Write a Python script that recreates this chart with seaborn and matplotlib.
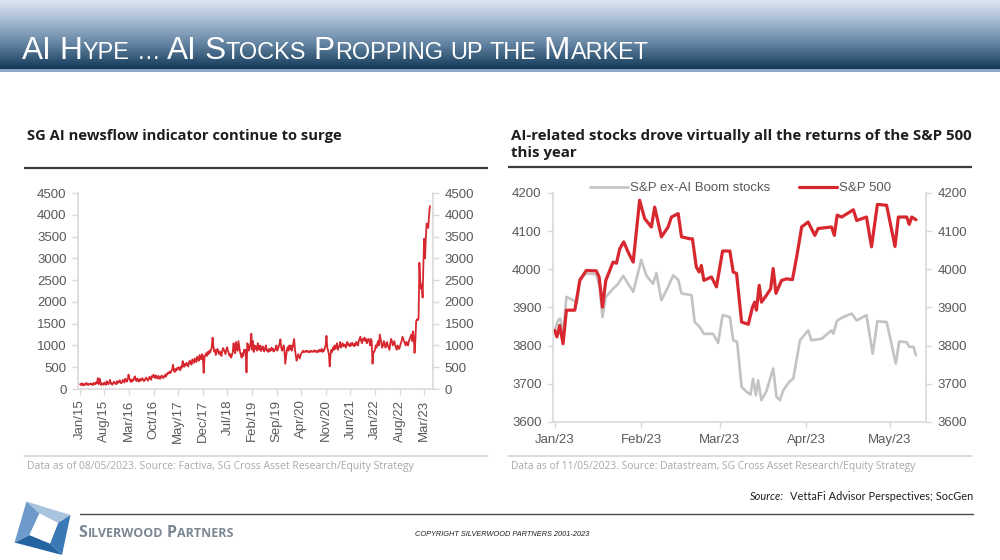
import numpy as np
import pandas as pd
import matplotlib
matplotlib.use("Agg")
import matplotlib.pyplot as plt
from matplotlib.colors import LinearSegmentedColormap
from matplotlib.patches import Polygon
import seaborn as sns

# ---------------- data ----------------
# SG AI newsflow indicator, weekly values (Jan 2015 -> Apr 2023)
news_2015 = [110, 90, 130, 100, 80, 120, 95, 110, 140, 100, 90, 120, 105, 130, 100, 115, 90, 140, 120, 110,
             160, 130, 250, 110, 240, 180, 90, 130, 110, 100, 150, 120, 95, 180, 130, 110, 160, 210, 120, 140,
             100, 130, 170, 150, 120, 110, 180, 140, 160, 200, 150, 130]
news_2016 = [160, 210, 180, 150, 240, 200, 170, 230, 330, 250, 190, 160, 220, 180, 200, 260, 290, 210, 180, 240,
             200, 170, 230, 190, 210, 250, 220, 180, 200, 240, 260, 220, 190, 230, 280, 250, 210, 300, 270, 330,
             290, 250, 310, 270, 240, 300, 260, 230, 280, 310, 270, 250]
news_2017 = [290, 320, 280, 350, 330, 380, 360, 400, 370, 420, 450, 556, 430, 390, 460, 420, 480, 450, 500, 470,
             430, 520, 490, 640, 560, 510, 580, 540, 600, 560, 520, 620, 650, 590, 560, 680, 640, 600, 700, 660,
             620, 740, 700, 650, 780, 720, 680, 800, 760, 370, 720, 780]
news_2018 = [820, 760, 850, 800, 880, 840, 900, 950, 1180, 980, 860, 900, 780, 850, 920, 880, 800, 860, 820, 760,
             880, 940, 900, 850, 800, 900, 960, 880, 820, 760, 800, 720, 780, 850, 1050, 900, 820, 1080, 950, 880,
             1100, 980, 850, 780, 720, 820, 760, 900, 850, 900, 380, 1050]
news_2019 = [1000, 880, 950, 1050, 1270, 900, 1100, 850, 1000, 920, 980, 880, 1050, 950, 900, 1000, 870, 930, 980, 900,
             860, 940, 1000, 880, 900, 850, 920, 870, 900, 950, 880, 920, 860, 900, 940, 1000, 880, 920, 980, 1050,
             1140, 950, 880, 920, 1000, 870, 580, 750, 900, 960, 880, 1000]
news_2020 = [920, 1000, 880, 950, 1050, 1150, 900, 780, 650, 720, 800, 750, 700, 780, 820, 850, 880, 840, 860, 870,
             850, 880, 860, 840, 870, 850, 880, 860, 850, 870, 890, 850, 860, 880, 840, 870, 900, 860, 880, 920,
             850, 900, 880, 950, 1000, 1220, 950, 880, 800, 520, 780, 900]
news_2021 = [850, 950, 900, 1000, 920, 980, 1050, 900, 950, 1000, 1080, 950, 1000, 1050, 980, 1020, 1000, 950, 1050, 1080,
             1000, 1020, 980, 1050, 1000, 1060, 1020, 980, 1040, 1000, 1080, 1050, 1000, 1100, 1150, 1200, 1100, 1050, 1150, 1120,
             1180, 1100, 1150, 1050, 1120, 1150, 1100, 1000, 1150, 1100, 580, 850]
news_2022 = [850, 900, 1000, 950, 1050, 1100, 1000, 1250, 1150, 1050, 950, 1000, 1100, 1050, 950, 1000, 1080, 1000, 950, 900,
             1050, 1150, 1100, 1000, 1050, 1100, 1000, 950, 900, 1000, 950, 920, 980, 1050, 1100, 1200, 1150, 1100, 1050, 1000,
             1080, 1050, 1000, 1100, 1150, 1200, 1250, 1100, 1320, 1200, 830, 1100]
news_2023 = [1550, 1600, 1580, 1620, 2900, 2500, 2300, 2400, 2100, 2900, 3450, 3000, 3500, 3800, 3750, 3700, 4000, 4200]
news_start = "2015-01-02"
left_tick_labels = ["Jan/15", "Aug/15", "Mar/16", "Oct/16", "May/17", "Dec/17", "Jul/18", "Feb/19",
                    "Sep/19", "Apr/20", "Nov/20", "Jun/21", "Jan/22", "Aug/22", "Mar/23"]
left_yticks = [0, 500, 1000, 1500, 2000, 2500, 3000, 3500, 4000, 4500]

# S&P 500 vs S&P ex-AI boom stocks (days after 1 Jan 2023)
sp500_days = [0, 0.8, 1.8, 3.0, 4.2, 7.2, 9.0, 11.3, 14.9, 15.9, 17.1, 18.3, 20.9, 22.1, 23.3, 24.7, 26.3, 28.1,
              30.4, 32.2, 34.6, 35.8, 38.2, 40.6, 41.8, 44.2, 45.4, 48.4, 49.3, 50.7, 51.7, 52.5, 53.4, 56.1, 57.9,
              60.1, 62.7, 63.9, 65.1, 66.9, 69.3, 70.8, 71.6, 72.2, 73.2, 74.0, 75.8, 77.3, 78.2, 79.2, 81.2, 83.0,
              85.1, 86.6, 88.4, 90.7, 93.1, 94.3, 99.1, 100.1, 101.1, 102.7, 106.9, 108.1, 111.6, 113.4, 115.5,
              118.8, 121.8, 123.0, 126.0, 126.9, 127.8, 129.3]
sp500_vals = [3840, 3823, 3853, 3805, 3893, 3893, 3971, 3997, 3996, 3980, 3901, 3971, 4019, 4016, 4054, 4072, 4045, 4019,
              4181, 4133, 4111, 4163, 4085, 4111, 4137, 4146, 4085, 4080, 4080, 4006, 3993, 4010, 3971, 3980, 3954,
              4048, 4048, 3993, 3989, 3862, 3856, 3901, 3914, 3893, 3958, 3914, 3932, 3949, 4002, 3937, 3971, 3975,
              3973, 4032, 4111, 4124, 4089, 4107, 4111, 4089, 4142, 4137, 4156, 4128, 4137, 4059, 4170,
              4168, 4060, 4137, 4137, 4118, 4137, 4130]
exai_days = [0, 1.2, 2.0, 3.0, 4.2, 6.6, 8.0, 9.0, 11.3, 14.9, 16.1, 17.1, 18.3, 20.9, 22.7, 24.5, 28.1, 31.0, 32.8,
             35.2, 36.4, 38.2, 40.6, 42.4, 44.2, 45.4, 49.0, 50.1, 51.9, 53.4, 56.7, 58.5, 60.1, 62.7, 63.9, 65.3,
             66.9, 68.7, 70.1, 71.0, 72.0, 72.8, 74.0, 75.8, 78.2, 79.4, 80.6, 81.8, 83.9, 85.4, 87.8, 90.7, 91.9,
             95.5, 99.1, 99.7, 101.1, 103.3, 106.3, 108.1, 111.6, 113.8, 115.5, 118.8, 122.1, 123.3, 126.0, 126.9,
             128.4, 129.3]
exai_vals = [3840, 3866, 3871, 3831, 3928, 3919, 3912, 3976, 3989, 3987, 3954, 3875, 3928, 3949, 3962, 3983, 3941, 4025,
             3984, 3962, 3990, 3919, 3954, 3984, 3973, 3937, 3932, 3862, 3849, 3831, 3831, 3807, 3880, 3875, 3814,
             3810, 3692, 3679, 3672, 3713, 3670, 3709, 3657, 3681, 3740, 3666, 3657, 3683, 3705, 3714, 3814, 3840,
             3814, 3818, 3840, 3831, 3866, 3875, 3884, 3866, 3880, 3779, 3864, 3862, 3753, 3811, 3809, 3797, 3797, 3775]
right_tick_labels = ["Jan/23", "Feb/23", "Mar/23", "Apr/23", "May/23"]
right_yticks = [3600, 3700, 3800, 3900, 4000, 4100, 4200]
series_names = ["S&P ex-AI Boom stocks", "S&P 500"]

main_title = "AI Hype \u2026 AI Stocks Propping up the Market"
left_title = "SG AI newsflow indicator continue to surge"
right_title = ["AI-related stocks drove virtually all the returns of the S&P 500", "this year"]
left_note = "Data as of 08/05/2023. Source: Factiva, SG Cross Asset Research/Equity Strategy"
right_note = "Data as of 11/05/2023. Source: Datastream, SG Cross Asset Research/Equity Strategy"
source_label = "Source:"
source_text = "VettaFi Advisor Perspectives; SocGen"
brand = "Silverwood Partners"
copyright_text = "COPYRIGHT SILVERWOOD PARTNERS 2001-2023"

# ---------------- style ----------------
sns.set_theme(style="white")
plt.rcParams["font.family"] = ["Liberation Sans", "DejaVu Sans"]

RED = "#d7282f"
GREY = "#c3c3c3"
SPINE = "#d9d9d9"
TICKC = "#595959"

fig = plt.figure(figsize=(10, 5.6), dpi=100)
renderer = fig.canvas.get_renderer()

# background axes in pixel coordinates
bg = fig.add_axes([0, 0, 1, 1], zorder=-10)
cmap = LinearSegmentedColormap.from_list("bar", [(0, "#dce5f1"), (0.3, "#a6bbd3"),
                                                 (0.65, "#60819f"), (1, "#143a5a")])
bg.imshow(np.linspace(0, 1, 100)[:, None], cmap=cmap, extent=[0, 1000, 69, 0], aspect="auto")
bg.fill_between([0, 1000], 69, 72, color="#8eaacb", lw=0)
bg.set_xlim(0, 1000)
bg.set_ylim(560, 0)
bg.axis("off")

# rules
bg.plot([24, 488], [167.5, 167.5], color="#3c3c3c", lw=1.6, solid_capstyle="butt")
bg.plot([508, 972], [167, 167], color="#3c3c3c", lw=1.6, solid_capstyle="butt")
bg.plot([24, 488], [456, 456], color="#dcdcdc", lw=1.4)
bg.plot([508, 972], [456, 456], color="#dcdcdc", lw=1.4)
bg.plot([80, 973], [514, 514], color="#4a4a4a", lw=1.0)

# logo
oTL, oTR, oBR, oBL = (26.5, 501.5), (70.5, 515), (62, 555), (14.5, 542.5)
iTL, iTR, iBR, iBL = (39.5, 513.5), (58, 523), (50, 543.5), (29.5, 535)
for pts, c in [((oTL, oTR, iTR, iTL), "#a9c3df"), ((oTR, oBR, iBR, iTR), "#3b78b6"),
               ((oBR, oBL, iBL, iBR), "#2464a1"), ((oBL, oTL, iTL, iBL), "#6d9acb")]:
    bg.add_patch(Polygon(pts, closed=True, fc=c, ec="none"))
bg.add_patch(Polygon((iTL, iTR, iBR, iBL), closed=True, fc="white", ec="none"))


def text_width(t):
    return t.get_window_extent(renderer).width


def fit_width(t, target):
    for _ in range(3):
        t.set_fontsize(t.get_fontsize() * target / text_width(t))


def small_caps(x0, y, text, big, ratio, target=None, **kw):
    def build(size):
        arts = []
        x = x0
        probe1 = bg.text(0, 0, "H H", fontsize=size * ratio, **kw)
        probe2 = bg.text(0, 0, "HH", fontsize=size * ratio, **kw)
        sp = text_width(probe1) - text_width(probe2)
        probe1.remove(); probe2.remove()
        for wi, word in enumerate(text.split(" ")):
            if wi:
                x += sp
            runs = []
            for ch in word:
                up = ch.isupper()
                if runs and runs[-1][1] == up:
                    runs[-1][0] += ch
                else:
                    runs.append([ch, up])
            for s, up in runs:
                t = bg.text(x, y, s.upper(), fontsize=size if up else size * ratio,
                            ha="left", va="baseline", **kw)
                x += text_width(t) + 0.6
                arts.append(t)
        return arts, x - x0
    arts, w = build(big)
    if target:
        for a in arts:
            a.remove()
        arts, w = build(big * target / w)
    return arts


# main title
small_caps(22, 59, main_title, 22, 0.74, target=628, color="white",
           family=["Liberation Sans", "DejaVu Sans"])

# chart titles
tl = bg.text(27, 136, left_title, fontsize=10, fontweight="bold", color="#1e1e1e",
             family=["Open Sans", "DejaVu Sans"], va="center", ha="left")
fit_width(tl, 315)
tr1 = bg.text(511, 136, right_title[0], fontsize=10, fontweight="bold", color="#1e1e1e",
              family=["Open Sans", "DejaVu Sans"], va="center", ha="left")
fit_width(tr1, 457)
bg.text(511, 153, right_title[1], fontsize=tr1.get_fontsize(), fontweight="bold", color="#1e1e1e",
        family=["Open Sans", "DejaVu Sans"], va="center", ha="left")

# notes
nl = bg.text(27, 466, left_note, fontsize=7, color="#a8a8a8", family=["Open Sans", "DejaVu Sans"],
             va="center", ha="left")
fit_width(nl, 385)
nr = bg.text(511, 466, right_note, fontsize=7, color="#a8a8a8", family=["Open Sans", "DejaVu Sans"],
             va="center", ha="left")
fit_width(nr, 407)

# footer texts
st = bg.text(973, 497, source_text, fontsize=8, color="#1e1e1e", family=["Lato", "DejaVu Sans"],
             va="center", ha="right")
fit_width(st, 184)
sl = bg.text(973 - 184 - 5, 497, source_label, fontsize=st.get_fontsize(), color="#1e1e1e",
             style="italic", family=["Lato", "DejaVu Sans"], va="center", ha="right")
ct = bg.text(415, 535, copyright_text, fontsize=5, color="#1e1e1e", style="italic",
             family=["Liberation Sans", "DejaVu Sans"], va="center", ha="left")
fit_width(ct, 175)
small_caps(78, 537, brand, 12, 0.78, target=156, color="#7c8794", fontweight="bold",
           family=["Open Sans", "DejaVu Sans"])

# ---------------- left chart ----------------
news_values = news_2015 + news_2016 + news_2017 + news_2018 + news_2019 + news_2020 + news_2021 + news_2022 + news_2023
news_dates = pd.date_range(news_start, periods=len(news_values), freq="7D")
news_df = pd.DataFrame({"date": news_dates, "value": news_values})

axL = fig.add_axes([0.078, 1 - 389 / 560, 0.355, 196 / 560])
sns.lineplot(data=news_df, x="date", y="value", ax=axL, color=RED, lw=1.3)
axL.set_ylim(0, 4500)
axL.set_xlim(pd.Timestamp("2014-12-15"), pd.Timestamp("2023-05-18"))
axL.set_yticks(left_yticks)
axL.set_yticklabels([str(v) for v in left_yticks])
left_tick_dates = pd.to_datetime(left_tick_labels, format="%b/%y")
axL.set_xticks(left_tick_dates)
axL.set_xticklabels(left_tick_labels, rotation=90)

# ---------------- right chart ----------------
base = pd.Timestamp("2023-01-01")
sp_df = pd.DataFrame({"date": base + pd.to_timedelta(sp500_days, unit="D"), "value": sp500_vals})
ex_df = pd.DataFrame({"date": base + pd.to_timedelta(exai_days, unit="D"), "value": exai_vals})

axR = fig.add_axes([0.553, 1 - 422 / 560, 0.373, 229 / 560])
sns.lineplot(data=ex_df, x="date", y="value", ax=axR, color=GREY, lw=1.9, label=series_names[0])
sns.lineplot(data=sp_df, x="date", y="value", ax=axR, color=RED, lw=2.3, label=series_names[1])
axR.set_ylim(3600, 4200)
axR.set_xlim(base - pd.Timedelta(days=0.6), base + pd.Timedelta(days=132.9))
axR.set_yticks(right_yticks)
axR.set_yticklabels([str(v) for v in right_yticks])
right_tick_dates = pd.to_datetime(right_tick_labels, format="%b/%y")
axR.set_xticks(right_tick_dates)
axR.set_xticklabels(right_tick_labels)
axR.legend(loc="center left", bbox_to_anchor=((590 - 553) / 373, (422 - 188) / 229), ncol=2,
           frameon=False, borderpad=0, borderaxespad=0, handlelength=2.88, handletextpad=0.15,
           columnspacing=2.2, fontsize=9.5, labelcolor=TICKC)

for ax, xpad in [(axL, 3.6), (axR, 4.3)]:
    ax.set_xlabel("")
    ax.set_ylabel("")
    ax.set_facecolor("none")
    ax.spines["top"].set_visible(False)
    for s in ["left", "right", "bottom"]:
        ax.spines[s].set_visible(True)
        ax.spines[s].set_color(SPINE)
        ax.spines[s].set_linewidth(1.2)
    ax.tick_params(axis="y", left=True, right=True, labelleft=True, labelright=True,
                   length=4, width=1.0, color=SPINE, labelcolor=TICKC, labelsize=9.5, pad=4.3)
    ax.tick_params(axis="x", bottom=True, length=4, width=1.0, color=SPINE, labelcolor=TICKC,
                   labelsize=9.5, pad=xpad)
    ax.grid(False)

fig.savefig("out.png", dpi=100)
